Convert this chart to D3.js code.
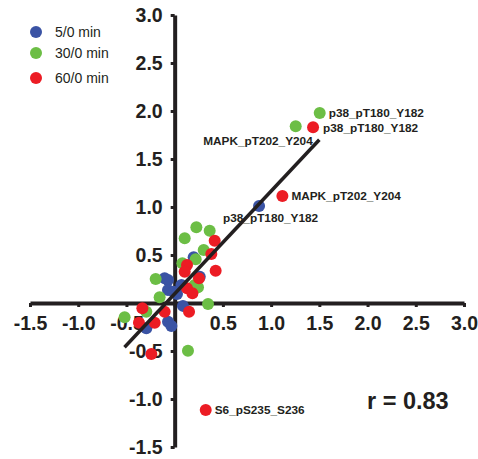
<!DOCTYPE html>
<html>
<head>
<meta charset="utf-8">
<script src="https://cdn.jsdelivr.net/npm/d3@7"></script>
<style>
  body { margin: 0; background: #fff; }
  svg { display: block; font-family: "Liberation Sans", Arial, sans-serif; }
</style>
</head>
<body>
<div id="chart"></div>
<script>
// series values, as [x, y] log-ratio pairs
const series5 = [
  [0.875, 1.01], [0.197, 0.476], [-0.104, 0.257], [-0.069, 0.24], [0.26, 0.274],
  [0.07, 0.188], [-0.069, 0.135], [-0.01, 0.118], [0.024, 0.094], [0.086, -0.03],
  [-0.294, -0.264], [-0.069, -0.195], [-0.034, -0.24]
];
const series30 = [
  [1.504, 1.98], [1.255, 1.84], [0.225, 0.788], [0.363, 0.753], [0.104, 0.674],
  [0.301, 0.552], [0.218, 0.455], [0.08, 0.413], [-0.197, 0.25], [0.242, 0.164],
  [0.207, 0.188], [-0.156, 0.059], [0.346, -0.01], [-0.294, -0.09], [-0.519, -0.149],
  [0.138, -0.497]
];
const series60 = [
  [1.435, 1.83], [1.117, 1.115], [0.415, 0.649], [0.38, 0.51], [0.128, 0.396],
  [0.104, 0.326], [0.425, 0.336], [0.252, 0.257], [0.128, 0.153], [0.184, 0.101],
  [0.149, -0.09], [-0.104, -0.09], [-0.335, -0.055], [-0.37, -0.205], [-0.207, -0.205],
  [-0.242, -0.531], [0.322, -1.115]
];
const seriesNames = ["5/0 min", "30/0 min", "60/0 min"];
const tickValues = [-1.5, -1.0, -0.5, 0, 0.5, 1.0, 1.5, 2.0, 2.5, 3.0];
// fit line: slope, intercept and the x range it is drawn over
const fitSlope = 1.07;
const fitIntercept = 0.096;
const fitRange = [-0.52, 1.5];
const rText = "r = 0.83";
// labelled points: text, series index, point index
const pointLabels = [
  ["p38_pT180_Y182", 1, 0],
  ["p38_pT180_Y182", 2, 0],
  ["MAPK_pT202_Y204", 1, 1],
  ["MAPK_pT202_Y204", 2, 1],
  ["p38_pT180_Y182", 0, 0],
  ["S6_pS235_S236", 2, 16]
];

const allSeries = [series5, series30, series60];
const colors = ["#3a53a4", "#6cbe45", "#ec1c24"];
const ink = "#231f20";

const W = 478, H = 459;
const svg = d3.select("#chart").append("svg").attr("width", W).attr("height", H);

const x = d3.scaleLinear().domain([-1.5, 3]).range([30, 464]);
const y = d3.scaleLinear().domain([-1.5, 3]).range([447, 15]);

const fmt = d => (d === 0 ? "" : d3.format(".1f")(d).replace("−", "-"));

// y axis on x = 0
const yAxis = svg.append("g")
  .attr("transform", `translate(${x(0)},0)`)
  .call(d3.axisLeft(y).tickValues(tickValues).tickFormat(fmt).tickSize(4).tickSizeOuter(0).tickPadding(8));

// x axis on y = 0
const xAxis = svg.append("g")
  .attr("transform", `translate(0,${y(0)})`)
  .call(d3.axisBottom(x).tickValues(tickValues).tickFormat(fmt).tickSize(4).tickSizeOuter(0).tickPadding(9));

[xAxis, yAxis].forEach(g => {
  g.select(".domain").attr("stroke", ink).attr("stroke-width", 4);
  g.selectAll(".tick line").attr("stroke", ink).attr("stroke-width", 3);
  g.selectAll(".tick text")
    .attr("fill", ink)
    .style("font-size", "19.5px")
    .style("font-weight", "bold")
    .style("font-family", "'Liberation Sans', Arial, sans-serif");
});

// points, blue first so red ends up on top
allSeries.forEach((data, i) => {
  svg.append("g")
    .selectAll("circle")
    .data(data)
    .join("circle")
    .attr("cx", d => x(d[0]))
    .attr("cy", d => y(d[1]))
    .attr("r", 6)
    .attr("fill", colors[i]);
});

// regression line over the points
svg.append("line")
  .attr("x1", x(fitRange[0]))
  .attr("y1", y(fitSlope * fitRange[0] + fitIntercept))
  .attr("x2", x(fitRange[1]))
  .attr("y2", y(fitSlope * fitRange[1] + fitIntercept))
  .attr("stroke", ink)
  .attr("stroke-width", 3.5);

// point labels, offsets in pixels from the point
const labelOffsets = [
  { dx: 9, dy: 4.5, anchor: "start" },
  { dx: 10, dy: 4.5, anchor: "start" },
  { dx: 17, dy: 19, anchor: "end" },
  { dx: 9, dy: 4, anchor: "start" },
  { dx: -36, dy: 16, anchor: "start" },
  { dx: 9, dy: 4, anchor: "start" }
];
pointLabels.forEach((lab, i) => {
  const p = allSeries[lab[1]][lab[2]];
  const o = labelOffsets[i];
  svg.append("text")
    .attr("x", x(p[0]) + o.dx)
    .attr("y", y(p[1]) + o.dy)
    .attr("text-anchor", o.anchor)
    .attr("fill", ink)
    .style("font-size", "11.8px")
    .style("font-weight", "bold")
    .text(lab[0]);
});

// legend
const legendY = [32, 53, 78];
seriesNames.forEach((name, i) => {
  svg.append("circle").attr("cx", 36).attr("cy", legendY[i]).attr("r", 6).attr("fill", colors[i]);
  svg.append("text")
    .attr("x", 55)
    .attr("y", legendY[i] + 5)
    .attr("fill", ink)
    .style("font-size", "14px")
    .text(name);
});

// correlation
svg.append("text")
  .attr("x", 367)
  .attr("y", 409)
  .attr("fill", ink)
  .style("font-size", "23.5px")
  .style("font-weight", "bold")
  .text(rText);
</script>
</body>
</html>
